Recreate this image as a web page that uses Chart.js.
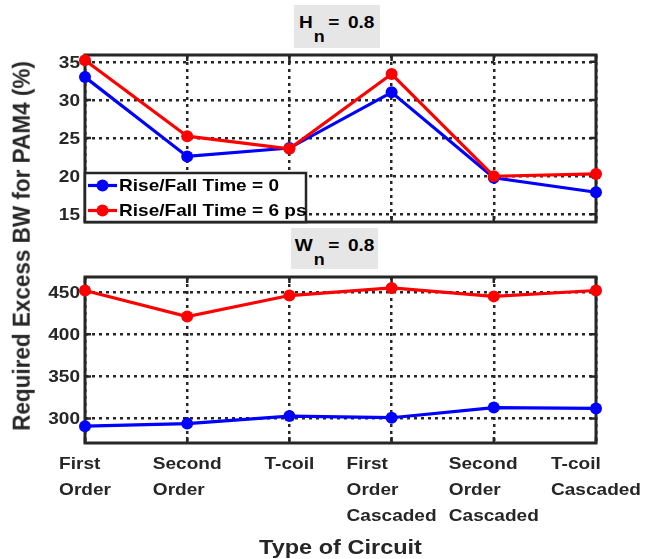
<!DOCTYPE html>
<html>
<head>
<meta charset="utf-8">
<script src="https://cdn.jsdelivr.net/npm/chart.js@4/dist/chart.umd.min.js"></script>
<style>
  html, body { margin: 0; padding: 0; background: #ffffff; }
  #wrap { position: relative; width: 651px; height: 559px; overflow: hidden; font-family: "Liberation Sans", Arial, sans-serif; color: #262626; }
  #wrap canvas { position: absolute; left: 0; top: 0; }
  .tbox { position: absolute; background: #e6e6e6; font-weight: bold; font-size: 17px; color: #000; white-space: nowrap; text-align: center; }
  .tbox .inner { display: inline-block; transform: scaleX(1.12); }
  .tbox .sub { position: relative; top: 14px; font-size: 16px; margin-left: 1px; margin-right: 3px; }
  .tbox .rest { word-spacing: 3px; }
  #ytitle { position: absolute; left: 22px; top: 246px; transform: translate(-50%, -50%) scaleX(1.1) rotate(-90deg); font-weight: bold; font-size: 22.5px; white-space: nowrap; color: #262626; }
</style>
</head>
<body>
<div id="wrap">
  <canvas id="topChart" width="651" height="559"></canvas>
  <canvas id="bottomChart" width="651" height="559"></canvas>
  <div class="tbox" style="left:294px; top:5px; width:86px; height:43px; line-height:36px;"><span class="inner">H<span class="sub">n</span><span class="rest">= 0.8</span></span></div>
  <div class="tbox" style="left:291px; top:228px; width:87px; height:41px; line-height:36px;"><span class="inner">W<span class="sub">n</span><span class="rest">= 0.8</span></span></div>
  <div id="ytitle">Required Excess BW for PAM4 (%)</div>
</div>
<script>
// Circuit types on the shared x axis (each entry is one multi-line label)
const categories = [
  ['First', 'Order'],
  ['Second', 'Order'],
  ['T-coil'],
  ['First', 'Order', 'Cascaded'],
  ['Second', 'Order', 'Cascaded'],
  ['T-coil', 'Cascaded']
];
const seriesNames = ['Rise/Fall Time = 0', 'Rise/Fall Time = 6 ps'];
const seriesColors = ['#0000ff', '#ff0000'];

// H_n = 0.8 panel
const hnRise0 = [33.0, 22.6, 23.7, 31.0, 19.8, 17.9];
const hnRise6 = [35.2, 25.25, 23.6, 33.4, 20.0, 20.3];
const hnTicks = [15, 20, 25, 30, 35];

// W_n = 0.8 panel
const wnRise0 = [291, 294, 303, 301, 313, 312];
const wnRise6 = [452, 421, 446, 455, 445, 452];
const wnTicks = [300, 350, 400, 450];

const INK = '#262626';
const FONT = '"Liberation Sans", Arial, sans-serif';
const STRETCH = 1.12;   // slightly wide lettering

// Draw text with a horizontal stretch, anchored at (x, y)
function wideText(ctx, s, x, y, align) {
  const w = ctx.measureText(s).width * STRETCH;
  let left = x;
  if (align === 'center') left = x - w / 2;
  else if (align === 'right') left = x - w;
  ctx.save();
  ctx.translate(left, y);
  ctx.scale(STRETCH, 1);
  ctx.textAlign = 'left';
  ctx.fillText(s, 0, 0);
  ctx.restore();
}

function makeDatasets(a, b) {
  return [a, b].map((vals, k) => ({
    label: seriesNames[k],
    data: vals,
    borderColor: seriesColors[k],
    backgroundColor: seriesColors[k],
    pointBackgroundColor: seriesColors[k],
    pointBorderColor: seriesColors[k],
    borderWidth: 3.2,
    pointRadius: 6,
    pointBorderWidth: 0,
    tension: 0,
    clip: false,
    order: k === 1 ? 0 : 1
  }));
}

// Box frame, inward tick marks and value labels, drawn beneath the series
const framePlugin = {
  id: 'frame',
  beforeDatasetsDraw(chart) {
    const { ctx, chartArea: a, scales } = chart;
    ctx.save();
    ctx.strokeStyle = INK;
    ctx.lineWidth = 2.5;
    ctx.beginPath();
    scales.x.ticks.forEach((t, i) => {
      const px = scales.x.getPixelForTick(i);
      ctx.moveTo(px, a.top); ctx.lineTo(px, a.top + 6);
      ctx.moveTo(px, a.bottom); ctx.lineTo(px, a.bottom - 6);
    });
    scales.y.ticks.forEach((t, i) => {
      const py = scales.y.getPixelForTick(i);
      ctx.moveTo(a.left, py); ctx.lineTo(a.left + 6, py);
      ctx.moveTo(a.right, py); ctx.lineTo(a.right - 6, py);
    });
    ctx.stroke();
    ctx.lineWidth = 3;
    ctx.strokeRect(a.left, a.top, a.right - a.left, a.bottom - a.top);

    ctx.fillStyle = INK;
    ctx.font = 'bold 17px ' + FONT;
    ctx.textBaseline = 'middle';
    scales.y.ticks.forEach((t, i) => {
      const py = scales.y.getPixelForTick(i);
      wideText(ctx, String(t.value), a.left - 5, py + 1, 'right');
    });
    ctx.restore();
  }
};

// Legend box sitting in the lower-left corner of the upper panel
const legendPlugin = {
  id: 'cornerLegend',
  afterDraw(chart) {
    const { ctx, chartArea: a } = chart;
    const w = 221, h = 49;
    const x0 = a.left, y0 = a.bottom - h;
    ctx.save();
    ctx.fillStyle = '#ffffff';
    ctx.fillRect(x0, y0, w, h);
    ctx.strokeStyle = INK;
    ctx.lineWidth = 2.5;
    ctx.strokeRect(x0, y0, w, h);
    ctx.font = 'bold 17px ' + FONT;
    ctx.textBaseline = 'middle';
    chart.data.datasets.forEach((ds, k) => {
      const cy = y0 + 12.5 + k * 25;
      ctx.strokeStyle = ds.borderColor;
      ctx.lineWidth = 3.2;
      ctx.beginPath();
      ctx.moveTo(x0 + 3, cy); ctx.lineTo(x0 + 32, cy);
      ctx.stroke();
      ctx.fillStyle = ds.borderColor;
      ctx.beginPath();
      ctx.arc(x0 + 17.5, cy, 6, 0, Math.PI * 2);
      ctx.fill();
      ctx.fillStyle = '#000000';
      wideText(ctx, ds.label, x0 + 34, cy + 1, 'left');
    });
    ctx.restore();
  }
};

// Multi-line category labels (lines left-aligned, block centred on the tick) and axis title
const xLabelPlugin = {
  id: 'xLabels',
  afterDraw(chart) {
    const { ctx, chartArea: a, scales } = chart;
    ctx.save();
    ctx.fillStyle = INK;
    ctx.font = 'bold 17px ' + FONT;
    ctx.textBaseline = 'alphabetic';
    categories.forEach((lines, i) => {
      const px = scales.x.getPixelForValue(i);
      const w = Math.max(...lines.map(s => ctx.measureText(s).width)) * STRETCH;
      lines.forEach((s, k) => wideText(ctx, s, px - w / 2, a.bottom + 26 + k * 26, 'left'));
    });
    ctx.font = 'bold 21px ' + FONT;
    wideText(ctx, 'Type of Circuit', (a.left + a.right) / 2, 554, 'center');
    ctx.restore();
  }
};

function makeOptions(yMin, yMax, tickList, padding, xHeight) {
  return {
    responsive: false,
    animation: false,
    devicePixelRatio: 1,
    layout: { padding },
    plugins: { legend: { display: false }, tooltip: { enabled: false }, title: { display: false } },
    scales: {
      x: {
        type: 'category',
        offset: false,
        grid: { color: INK, lineWidth: 2.5, drawTicks: false },
        border: { display: false, dash: [3, 4] },
        ticks: { display: false },
        afterFit(scale) { scale.height = xHeight; }
      },
      y: {
        type: 'linear',
        min: yMin,
        max: yMax,
        afterBuildTicks(scale) { scale.ticks = tickList.map(v => ({ value: v })); },
        grid: { color: INK, lineWidth: 2.5, drawTicks: false },
        border: { display: false, dash: [3, 4] },
        ticks: { display: false },
        afterFit(scale) { scale.width = 85; }
      }
    }
  };
}

new Chart(document.getElementById('topChart'), {
  type: 'line',
  data: { labels: categories, datasets: makeDatasets(hnRise0, hnRise6) },
  options: makeOptions(14, 35.9, hnTicks, { top: 55, right: 55, bottom: 337, left: 0 }, 0),
  plugins: [framePlugin, legendPlugin]
});

new Chart(document.getElementById('bottomChart'), {
  type: 'line',
  data: { labels: categories, datasets: makeDatasets(wnRise0, wnRise6) },
  options: makeOptions(271, 468, wnTicks, { top: 277, right: 55, bottom: 0, left: 0 }, 116),
  plugins: [framePlugin, xLabelPlugin]
});
</script>
</body>
</html>
